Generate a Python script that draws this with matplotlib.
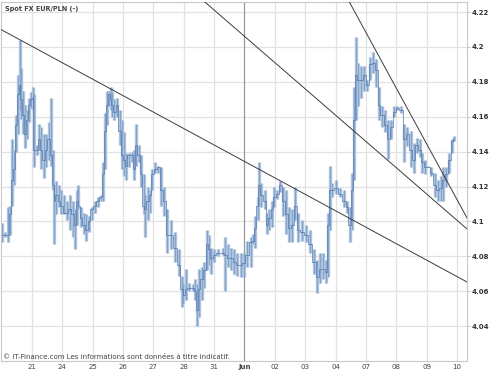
import matplotlib
matplotlib.use("Agg")
import matplotlib.pyplot as plt

# trading-day positions (gridline k = start of k-th labelled session)
times = [0.01,0.11,0.21,0.29,0.34,0.41,0.47,0.54,0.59,0.64,0.70,0.77,0.83,0.90,0.97,1.02,1.06,1.15,1.23,1.31,
         1.38,1.46,1.56,1.62,1.69,1.74,1.80,1.89,1.97,2.05,2.15,2.25,2.35,2.41,2.48,2.53,2.61,2.71,2.79,2.87,
         2.97,3.07,3.17,3.27,3.35,3.41,3.48,3.55,3.59,3.64,3.71,3.81,3.89,3.97,4.02,4.09,4.19,4.28,4.37,4.43,
         4.51,4.60,4.68,4.73,4.81,4.88,4.96,5.06,5.16,5.25,5.35,5.45,5.57,5.70,5.83,5.93,5.99,6.06,6.16,6.29,
         6.37,6.44,6.50,6.59,6.68,6.77,6.83,6.91,7.01,7.14,7.28,7.37,7.47,7.57,7.67,7.77,7.87,7.97,8.08,8.20,
         8.29,8.36,8.43,8.47,8.56,8.66,8.74,8.82,8.90,8.98,9.08,9.18,9.28,9.38,9.48,9.58,9.67,9.77,9.90,10.04,
         10.17,10.30,10.40,10.50,10.59,10.69,10.76,10.81,10.89,11.02,11.15,11.28,11.38,11.47,11.53,11.60,11.66,11.74,11.84,11.94,
         12.04,12.14,12.24,12.34,12.43,12.53,12.63,12.73,12.83,12.93,13.04,13.17,13.27,13.37,13.47,13.57,13.67,13.77,13.86,13.96,
         14.06,14.16,14.26,14.36,14.46,14.55,14.65,14.75,14.83,14.90]

lows = [4.088,4.091,4.088,4.092,4.109,4.121,4.140,4.150,4.164,4.159,
        4.150,4.142,4.147,4.157,4.165,4.164,4.131,4.138,4.141,4.130,
        4.125,4.131,4.135,4.132,4.118,4.087,4.104,4.108,4.104,4.104,
        4.101,4.095,4.091,4.084,4.098,4.107,4.097,4.093,4.089,4.094,
        4.101,4.105,4.108,4.112,4.112,4.130,4.155,4.166,4.164,4.160,
        4.158,4.160,4.144,4.130,4.126,4.124,4.131,4.134,4.124,4.132,
        4.134,4.120,4.104,4.091,4.101,4.105,4.118,4.128,4.128,4.109,
        4.103,4.082,4.084,4.077,4.069,4.051,4.053,4.055,4.060,4.060,
        4.055,4.040,4.045,4.055,4.062,4.072,4.075,4.070,4.077,4.080,
        4.081,4.060,4.074,4.072,4.070,4.069,4.068,4.068,4.074,4.074,
        4.087,4.085,4.101,4.109,4.108,4.107,4.093,4.095,4.097,4.108,
        4.113,4.117,4.103,4.093,4.088,4.088,4.101,4.088,4.089,4.088,
        4.082,4.070,4.059,4.065,4.067,4.065,4.068,4.095,4.114,4.116,
        4.114,4.108,4.105,4.088,4.095,4.124,4.158,4.166,4.171,4.175,
        4.175,4.181,4.185,4.177,4.158,4.154,4.151,4.136,4.147,4.160,
        4.164,4.162,4.134,4.143,4.131,4.128,4.139,4.137,4.128,4.127,
        4.131,4.126,4.114,4.112,4.112,4.112,4.120,4.128,4.139,4.146]

highs = [4.099,4.094,4.108,4.109,4.147,4.141,4.161,4.184,4.204,4.188,
         4.175,4.167,4.164,4.171,4.174,4.177,4.173,4.144,4.156,4.154,
         4.150,4.150,4.157,4.171,4.141,4.121,4.123,4.121,4.118,4.115,
         4.112,4.115,4.112,4.107,4.118,4.121,4.108,4.105,4.104,4.103,
         4.108,4.112,4.114,4.115,4.134,4.162,4.175,4.175,4.177,4.174,
         4.170,4.171,4.164,4.158,4.151,4.139,4.139,4.140,4.141,4.156,
         4.144,4.138,4.127,4.115,4.120,4.118,4.130,4.134,4.132,4.131,
         4.120,4.107,4.101,4.094,4.084,4.069,4.064,4.073,4.065,4.064,
         4.067,4.064,4.073,4.074,4.077,4.095,4.092,4.085,4.084,4.084,
         4.085,4.091,4.087,4.085,4.084,4.082,4.082,4.082,4.089,4.091,
         4.093,4.103,4.114,4.134,4.122,4.118,4.105,4.107,4.112,4.120,
         4.118,4.123,4.120,4.118,4.108,4.107,4.120,4.105,4.101,4.098,
         4.095,4.084,4.078,4.082,4.082,4.078,4.105,4.132,4.122,4.124,
         4.119,4.118,4.112,4.108,4.128,4.177,4.206,4.191,4.189,4.189,
         4.181,4.194,4.197,4.193,4.177,4.166,4.164,4.158,4.158,4.166,
         4.166,4.166,4.156,4.154,4.152,4.145,4.148,4.147,4.139,4.135,
         4.132,4.131,4.128,4.124,4.126,4.131,4.131,4.139,4.147,4.149]

closes = [4.092,4.092,4.092,4.104,4.124,4.130,4.155,4.173,4.178,4.170,
          4.161,4.150,4.158,4.167,4.170,4.171,4.141,4.141,4.147,4.141,
          4.135,4.141,4.147,4.138,4.121,4.112,4.115,4.112,4.109,4.105,
          4.105,4.107,4.104,4.098,4.112,4.109,4.102,4.098,4.095,4.100,
          4.107,4.109,4.112,4.114,4.127,4.152,4.167,4.173,4.170,4.167,
          4.163,4.167,4.152,4.138,4.135,4.132,4.138,4.138,4.130,4.144,
          4.138,4.127,4.109,4.107,4.112,4.115,4.127,4.130,4.131,4.118,
          4.112,4.092,4.092,4.085,4.075,4.061,4.058,4.061,4.062,4.062,
          4.060,4.049,4.061,4.067,4.072,4.087,4.084,4.079,4.081,4.082,
          4.082,4.081,4.079,4.079,4.077,4.075,4.075,4.076,4.081,4.088,
          4.089,4.096,4.109,4.121,4.115,4.112,4.098,4.102,4.107,4.114,
          4.116,4.121,4.112,4.104,4.096,4.098,4.109,4.095,4.094,4.092,
          4.087,4.077,4.068,4.073,4.073,4.071,4.098,4.118,4.118,4.119,
          4.116,4.112,4.108,4.098,4.118,4.158,4.184,4.181,4.181,4.184,
          4.178,4.190,4.191,4.187,4.167,4.161,4.155,4.147,4.154,4.163,
          4.165,4.164,4.147,4.150,4.141,4.135,4.144,4.141,4.134,4.131,
          4.131,4.128,4.121,4.118,4.119,4.124,4.127,4.135,4.146,4.147]

day_pos = list(range(1, 16))
day_labels = ['21', '24', '25', '26', '27', '28', '31', 'Jun', '02', '03', '04', '07', '08', '09', '10']
month_pos = 8
price_ticks = [4.04, 4.06, 4.08, 4.10, 4.12, 4.14, 4.16, 4.18, 4.20, 4.22]
price_labels = ['4.04', '4.06', '4.08', '4.1', '4.12', '4.14', '4.16', '4.18', '4.2', '4.22']

# trend lines: two anchor points each (day position, price)
trend_a = [(-0.02, 4.210), (15.33, 4.0653)]
trend_b = [(6.62, 4.2269), (15.33, 4.0957)]
trend_c = [(11.78, 4.2154), (15.33, 4.1020)]

title = 'Spot FX EUR/PLN (-)'
footer = '© IT-Finance.com Les informations sont données à titre indicatif.'

fig = plt.figure(figsize=(5, 3.75), dpi=100)
ax = fig.add_axes([0.002, 0.0373, 0.932, 0.957])
ax.set_xlim(-0.02, 15.33)
ax.set_ylim(4.020, 4.2257)

# grid
for p in day_pos:
    if p == month_pos:
        ax.axvline(p, color='#9a9a9a', lw=0.9, zorder=1)
    else:
        ax.axvline(p, color='#e2e2e2', lw=0.9, zorder=0)
for v in price_ticks:
    ax.axhline(v, color='#e2e2e2', lw=0.9, zorder=0)

# price bars
ax.vlines(times, lows, highs, color='#adc3de', lw=2.4, zorder=2)
ax.vlines(times, lows, highs, color='#5a80b4', lw=0.45, alpha=0.75, zorder=3)
ax.plot(times, closes, drawstyle='steps-mid', color='#4f78b0', lw=0.5, zorder=4)

# trend lines
for tl in (trend_a, trend_b, trend_c):
    ax.axline(tl[0], tl[1], color='#3c3c3c', lw=0.7, zorder=5)

ax.set_xticks(day_pos)
ax.set_xticklabels(day_labels)
for lbl, txt in zip(ax.get_xticklabels(), day_labels):
    lbl.set_fontsize(5)
    lbl.set_color('#444444')
    if txt == 'Jun':
        lbl.set_fontweight('bold')
ax.tick_params(axis='x', length=0, pad=2.5)

ax.yaxis.tick_right()
ax.set_yticks(price_ticks)
ax.set_yticklabels(price_labels, fontsize=5, fontweight='bold', color='#333333')
ax.tick_params(axis='y', length=2, width=0.6, color='#bbbbbb', pad=1.5)

for s in ax.spines.values():
    s.set_color('#c8c8c8')
    s.set_linewidth(0.8)

ax.text(0.009, 0.988, title, transform=ax.transAxes, fontsize=4.7, fontweight='bold',
        color='#444444', ha='left', va='top')
ax.text(0.005, 0.004, footer, transform=ax.transAxes, fontsize=5,
        color='#444444', ha='left', va='bottom')

fig.savefig('out.png', dpi=100, facecolor='white')
